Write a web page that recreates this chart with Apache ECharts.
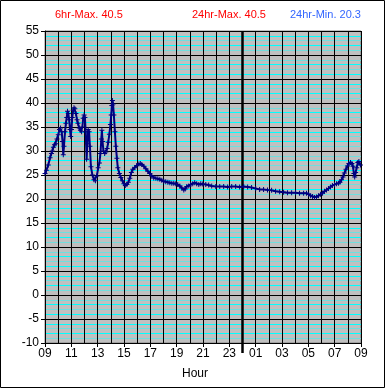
<!DOCTYPE html>
<html><head><meta charset="utf-8">
<script src="https://cdn.jsdelivr.net/npm/echarts@6/dist/echarts.min.js"></script>
<style>html,body{margin:0;padding:0;background:#fff}#c{width:385px;height:388px}</style>
</head><body><div id="c"></div>
<script>
// Hours since 09:00, temperature readings
const readings = [
 [0,25.3],[0.11,26.0],[0.25,27.1],[0.38,28.6],[0.49,29.5],[0.55,30.0],[0.64,30.8],[0.72,31.3],[0.83,31.5],[0.91,32.5],
 [1.01,33.4],[1.10,34.5],[1.18,34.8],[1.27,34.0],[1.33,32.0],[1.39,29.2],[1.44,31.0],[1.52,34.0],[1.59,35.8],[1.65,37.0],
 [1.71,38.3],[1.77,37.8],[1.84,36.5],[1.90,34.5],[1.95,33.0],[2.01,34.5],[2.07,37.0],[2.14,38.5],[2.20,39.0],[2.27,38.8],
 [2.35,37.8],[2.43,36.5],[2.50,35.8],[2.60,34.8],[2.69,34.3],[2.78,34.0],[2.84,35.0],[2.90,36.8],[2.97,37.5],[3.03,37.0],
 [3.09,34.0],[3.16,28.3],[3.22,31.5],[3.28,34.5],[3.35,34.0],[3.41,31.0],[3.49,26.7],[3.60,25.0],[3.72,24.0],[3.83,23.8],
 [3.94,24.8],[4.04,26.5],[4.13,27.5],[4.21,29.5],[4.28,32.5],[4.32,34.3],[4.37,32.0],[4.44,30.0],[4.53,29.5],[4.62,29.8],
 [4.72,30.5],[4.80,31.8],[4.89,33.5],[4.97,35.5],[5.03,37.5],[5.08,39.5],[5.12,40.5],[5.17,39.8],[5.23,37.5],[5.31,34.0],
 [5.38,31.0],[5.46,28.5],[5.53,26.5],[5.65,25.3],[5.76,24.5],[5.88,23.8],[5.99,23.2],[6.10,22.8],[6.22,23.0],[6.33,23.5],
 [6.44,24.3],[6.56,25.5],[6.67,26.2],[6.82,26.5],[6.97,27.0],[7.13,27.3],[7.24,27.4],[7.35,27.2],[7.51,26.8],[7.66,26.3],
 [7.81,25.8],[7.96,25.3],[8.11,24.8],[8.26,24.4],[8.42,24.3],[8.57,24.2],[8.72,24.1],[8.87,23.9],[9.02,23.7],[9.17,23.6],
 [9.33,23.5],[9.48,23.4],[9.63,23.3],[9.78,23.3],[9.93,23.2],[10.08,23.0],[10.24,22.7],[10.39,22.3],[10.54,21.9],[10.65,22.1],
 [10.77,22.6],[10.92,22.7],[11.07,23.0],[11.22,23.2],[11.37,23.4],[11.52,23.2],[11.68,23.0],[11.83,23.2],[11.98,23.1],[12.21,23.0],
 [12.43,22.9],[12.66,22.7],[12.97,22.6],[13.27,22.6],[13.57,22.6],[13.87,22.5],[14.18,22.6],[14.48,22.6],[14.78,22.5],[15.09,22.6],
 [15.39,22.5],[15.69,22.4],[16.00,22.2],[16.30,22.0],[16.60,22.0],[16.90,21.9],[17.21,21.8],[17.51,21.6],[17.82,21.5],[18.12,21.4],
 [18.42,21.3],[18.73,21.3],[19.03,21.3],[19.33,21.2],[19.64,21.2],[19.86,21.2],[20.02,21.0],[20.17,20.7],[20.32,20.5],[20.47,20.3],
 [20.62,20.4],[20.77,20.7],[20.93,21.0],[21.08,21.2],[21.23,21.6],[21.38,21.9],[21.53,22.2],[21.68,22.5],[21.83,22.8],[21.99,23.0],
 [22.14,23.2],[22.29,23.3],[22.40,23.5],[22.52,24.0],[22.63,24.6],[22.74,25.4],[22.86,26.2],[22.97,26.9],[23.08,27.4],[23.20,27.6],
 [23.31,27.4],[23.39,26.8],[23.46,25.3],[23.52,24.6],[23.59,25.5],[23.67,26.5],[23.76,27.6],[23.84,27.8],[23.96,27.1]
];
const xTickLabels = ['09','11','13','15','17','19','21','23','01','03','05','07','09'];
const legendTexts = ['6hr-Max. 40.5','24hr-Max. 40.5','24hr-Min. 20.3'];
const midnightLine = [[15,0],[15,1]];
const xAxisTitle = 'Hour';

const FONT = "'Liberation Sans', Arial, sans-serif";
const chart = echarts.init(document.getElementById('c'), null, {renderer:'canvas'});
const yBase = {gridIndex:0,type:'value',min:-10,max:55};
chart.setOption({
  animation:false,
  backgroundColor:'#ffffff',
  grid:[
    {left:45,right:24,top:31,bottom:45,show:true,backgroundColor:'#c0c0c0',borderColor:'#808080',borderWidth:1,z:0},
    {left:45,right:24,top:31,bottom:35,show:false}
  ],
  xAxis:[
    {gridIndex:0,type:'value',min:0,max:24,interval:1,z:4,
     axisLine:{show:false},axisTick:{show:false},axisLabel:{show:false},
     splitLine:{show:true,lineStyle:{color:'#000',width:1}}},
    {gridIndex:0,type:'value',min:0,max:24,interval:2,position:'bottom',z:4,
     axisLine:{show:true,onZero:false,lineStyle:{color:'#000',width:1}},
     axisTick:{show:true,length:4,lineStyle:{color:'#000'}},
     axisLabel:{color:'#000',fontSize:12,fontFamily:FONT,margin:5,formatter:v=>xTickLabels[Math.round(v/2)]},
     splitLine:{show:false}},
    {gridIndex:1,type:'value',min:0,max:24,show:false}
  ],
  yAxis:[
    Object.assign({},yBase,{interval:5,z:4,
     axisLine:{show:true,onZero:false,lineStyle:{color:'#000',width:1}},
     axisTick:{show:true,length:4,lineStyle:{color:'#000'}},
     axisLabel:{color:'#000',fontSize:12,fontFamily:FONT,margin:6},
     splitLine:{show:true,lineStyle:{color:'#000',width:1}}}),
    {gridIndex:1,type:'value',min:0,max:1,show:false},
    Object.assign({},yBase,{interval:1,z:1,
     axisLine:{show:false},axisTick:{show:false},axisLabel:{show:false},
     splitLine:{show:true,lineStyle:{color:'#70dede',width:1}}}),
    Object.assign({},yBase,{interval:2,z:2,
     axisLine:{show:false},axisTick:{show:false},axisLabel:{show:false},
     splitLine:{show:true,lineStyle:{color:'#00ffff',width:1}}})
  ],
  graphic:[
    {type:'text',left:55,top:9,style:{text:legendTexts[0],fill:'#ff0000',font:'11px '+FONT}},
    {type:'text',left:192,top:9,style:{text:legendTexts[1],fill:'#ff0000',font:'11px '+FONT}},
    {type:'text',left:290,top:9,style:{text:legendTexts[2],fill:'#3366ff',font:'11px '+FONT}},
    {type:'text',left:182,top:368,style:{text:xAxisTitle,fill:'#000',font:'12px '+FONT}},
    {type:'rect',silent:true,shape:{x:0.5,y:0.5,width:384,height:387},style:{fill:'none',stroke:'#000',lineWidth:1},z:100}
  ],
  series:[
    {type:'line',xAxisIndex:2,yAxisIndex:1,data:midnightLine,symbol:'none',silent:true,
     lineStyle:{color:'#000',width:2.5},z:6},
    {type:'line',xAxisIndex:0,yAxisIndex:0,data:readings,silent:true,
     symbol:'path://M2,0H3V2H5V3H3V5H2V3H0V2H2Z',symbolSize:5,
     itemStyle:{color:'#000080'},lineStyle:{color:'#000080',width:2},z:10}
  ]
});
</script></body></html>
